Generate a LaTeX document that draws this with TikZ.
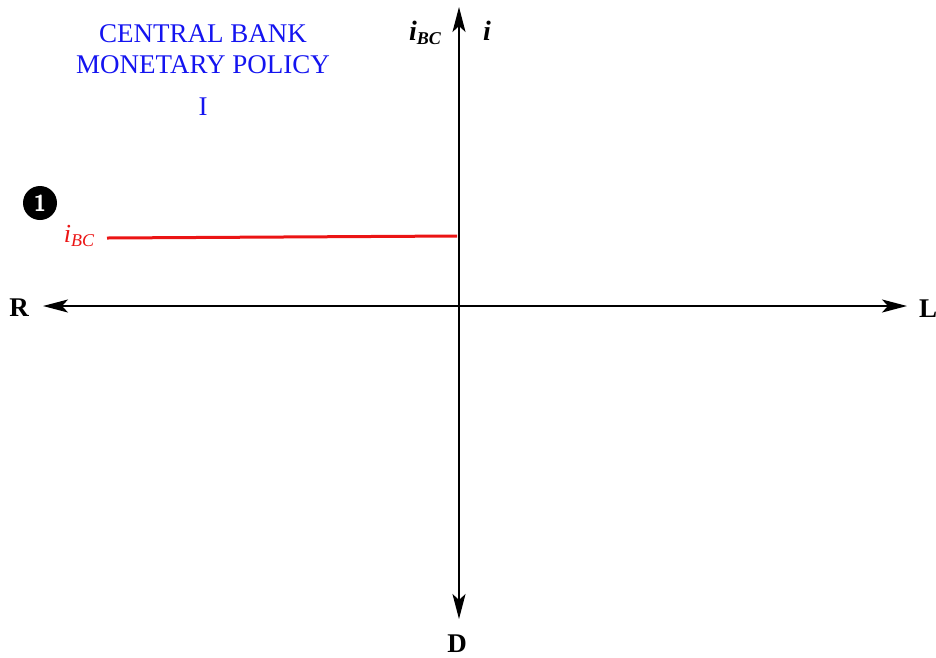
\documentclass[tikz,border=0pt]{standalone}
\usepackage{fontspec}
\setmainfont{Liberation Serif}
\usetikzlibrary{arrows.meta}
\definecolor{titleblue}{RGB}{20,20,240}
\definecolor{ibcred}{RGB}{235,20,20}
\tikzset{
  axis/.style={line width=2pt, -{Stealth[length=25pt,width=13pt,inset=6pt]}},
  axlabel/.style={font=\fontsize{27}{29}\selectfont\bfseries, inner sep=0pt},
  title/.style={font=\fontsize{27}{29}\selectfont, text=titleblue, inner sep=0pt},
  marker/.style={circle, fill=black, minimum size=34pt, inner sep=0pt, text=white, font=\fontsize{23}{24}\selectfont\bfseries\sffamily}
}
\newcommand{\ibclabel}{\textbf{\textit{i}}\raisebox{-0.35ex}{\fontsize{18}{19}\selectfont\textbf{\textit{BC}}}}
\begin{document}
\begin{tikzpicture}[x=1pt,y=-1pt]
\useasboundingbox (0,0) rectangle (936,657);
% axes
\coordinate (O) at (459,306);
\coordinate (top) at (459,7);
\coordinate (bot) at (459,619);
\coordinate (left) at (43,306);
\coordinate (right) at (907,306);
\draw[axis] (O) -- (top);
\draw[axis] (O) -- (bot);
\draw[axis] (O) -- (left);
\draw[axis] (O) -- (right);
% axis labels
\node[axlabel] (R) at (19,308) {R};
\node[axlabel] (L) at (928,309) {L};
\node[axlabel] (D) at (457,644) {D};
\node[inner sep=0pt, font=\fontsize{28}{30}\selectfont] (ibc) at (425,33) {\ibclabel};
\node[inner sep=0pt, font=\fontsize{28}{30}\selectfont\bfseries\itshape] (i) at (487,31) {i};
% titles
\node[title] (t1) at (203,34) {CENTRAL BANK};
\node[title] (t2) at (203,65) {MONETARY POLICY};
\node[title] (t3) at (203,107) {I};
% policy rate
\node[marker] (m1) at (40,203) {1};
\node[inner sep=0pt, text=ibcred, font=\fontsize{26}{28}\selectfont] (rl) at (79,236) {\textit{i}\raisebox{-0.35ex}{\fontsize{18}{19}\selectfont\textit{BC}}};
\coordinate (rs) at (107,238);
\coordinate (re) at (457,236);
\draw[ibcred, line width=3pt] (rs) -- (re);
\end{tikzpicture}
\end{document}
